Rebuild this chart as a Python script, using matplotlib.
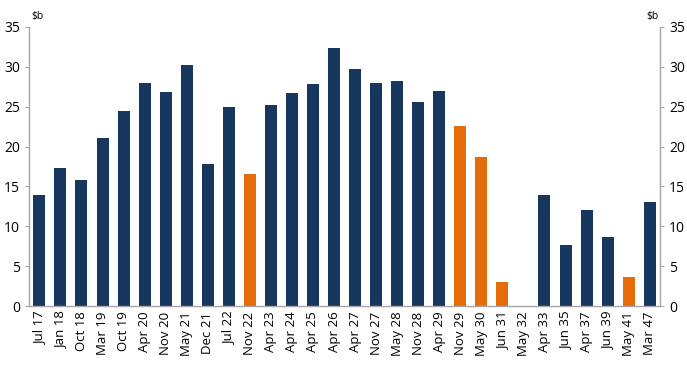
import matplotlib
matplotlib.use("Agg")
import matplotlib.pyplot as plt
import numpy as np

plt.rcParams["font.family"] = ["Open Sans", "DejaVu Sans"]

labels = ["Jul 17", "Jan 18", "Oct 18", "Mar 19", "Oct 19", "Apr 20", "Nov 20",
          "May 21", "Dec 21", "Jul 22", "Nov 22", "Apr 23", "Apr 24", "Apr 25",
          "Apr 26", "Apr 27", "Nov 27", "May 28", "Nov 28", "Apr 29", "Nov 29",
          "May 30", "Jun 31", "May 32", "Apr 33", "Jun 35", "Apr 37", "Jun 39",
          "May 41", "Mar 47"]
values = [13.9, 17.3, 15.8, 21.1, 24.4, 28.0, 26.8, 30.2, 17.8, 25.0, 16.5,
          25.2, 26.7, 27.9, 32.4, 29.7, 28.0, 28.2, 25.6, 27.0, 22.6, 18.7,
          3.0, 0.0, 13.9, 7.7, 12.0, 8.7, 3.6, 13.0]
highlight = ["Nov 22", "Nov 29", "May 30", "Jun 31", "May 41"]

NAVY = "#17375E"
ORANGE = "#E46C0A"
GREY = "#A6A6A6"

colors = [ORANGE if lab in highlight else NAVY for lab in labels]
x = np.arange(len(labels))

fig = plt.figure(figsize=(6.87, 3.75), dpi=100)
ax = fig.add_axes([0.042, 0.184, 0.919, 0.744])
ax.bar(x, values, width=0.57, color=colors, zorder=2)

ax.set_xlim(-0.5, len(labels) - 0.5)
ax.set_ylim(0, 35)
ax.set_yticks(range(0, 36, 5))
ax.set_xticks(x)
ax.set_xticklabels(labels, rotation=90, fontsize=9.5)
ax.tick_params(axis="x", length=0, pad=4)
ax.tick_params(axis="y", labelsize=10, length=3, color=GREY,
               labelleft=True, labelright=True, left=True, right=True)

ax.spines["top"].set_visible(False)
for side in ["left", "right", "bottom"]:
    ax.spines[side].set_color(GREY)
    ax.spines[side].set_linewidth(1)

fig.text(0.046, 0.955, "\\$b", fontsize=7.5, ha="left", va="center")
fig.text(0.958, 0.955, "\\$b", fontsize=7.5, ha="right", va="center")

fig.savefig("out.png", dpi=100)
